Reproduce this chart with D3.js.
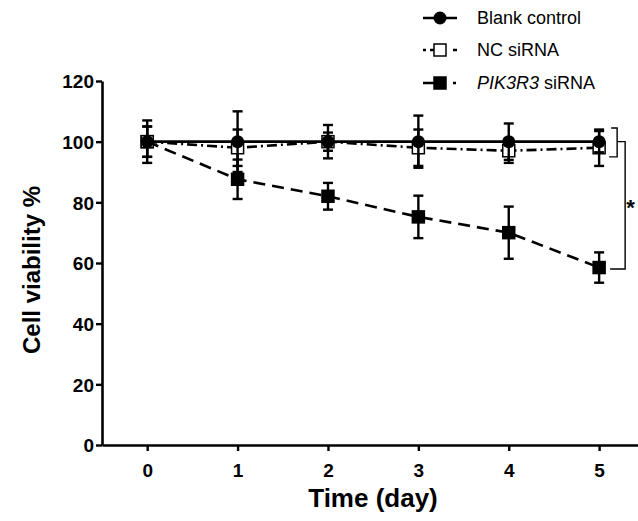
<!DOCTYPE html>
<html>
<head>
<meta charset="utf-8">
<script src="https://cdn.jsdelivr.net/npm/d3@7"></script>
<style>
  body { margin: 0; background: #fff; }
  text { font-family: Arial, "Liberation Sans", sans-serif; }
</style>
</head>
<body>
<svg id="chart" width="638" height="521"></svg>
<script>
// data
const days = [0, 1, 2, 3, 4, 5];
const seriesNames = ["Blank control", "NC siRNA", "PIK3R3 siRNA"];
const blankMean = [100, 100, 100, 100, 100, 100];
const blankErr = [7, 10, 5.5, 8.6, 6, 3.5];
const ncMean = [100, 98, 100, 98, 97, 98];
const ncErr = [5, 6, 3, 6, 4, 6];
const pikMean = [100, 87.6, 82, 75.2, 70, 58.5];
const pikErr = [5, 6.5, 4.4, 7, 8.6, 5];
const yTicks = [0, 20, 40, 60, 80, 100, 120];

const svg = d3.select("#chart");

const x = d3.scaleLinear().domain([-0.5, 5.43]).range([102, 638]);
const y = d3.scaleLinear().domain([0, 120]).range([445, 81]);

// axes
const xAxis = svg.append("g").attr("transform", "translate(0,445)")
  .call(d3.axisBottom(x).tickValues(days).tickFormat(d3.format("d")).tickSize(6).tickSizeOuter(0));
const yAxis = svg.append("g").attr("transform", "translate(102,0)")
  .call(d3.axisLeft(y).tickValues(yTicks).tickFormat(d3.format("d")).tickSize(6).tickSizeOuter(0));

[xAxis, yAxis].forEach(g => {
  g.select(".domain").attr("stroke", "#000").attr("stroke-width", 2.6);
  g.selectAll(".tick line").attr("stroke", "#000").attr("stroke-width", 2.4);
  g.selectAll(".tick text").attr("fill", "#000")
    .style("font-size", "19px").style("font-weight", "bold");
});
xAxis.selectAll(".tick text").attr("dy", "1.2em");
yAxis.selectAll(".tick text").attr("x", -8).attr("dy", "0.36em");

svg.append("text").attr("x", 373).attr("y", 507).attr("text-anchor", "middle")
  .style("font-size", "26px").style("font-weight", "bold").text("Time (day)");
svg.append("text").attr("transform", "translate(40,270) rotate(-90)")
  .attr("text-anchor", "middle")
  .style("font-size", "24px").style("font-weight", "bold").text("Cell viability %");

const series = [
  { name: seriesNames[2], mean: pikMean, err: pikErr, dash: "12,7", marker: "square", fill: "#000" },
  { name: seriesNames[1], mean: ncMean, err: ncErr, dash: "10,4,2,4", marker: "square", fill: "#fff" },
  { name: seriesNames[0], mean: blankMean, err: blankErr, dash: null, marker: "circle", fill: "#000" }
];

const line = d3.line().x((d, i) => x(days[i])).y(d => y(d));

function drawMarker(g, s, cx, cy) {
  if (s.marker === "circle") {
    g.append("circle").attr("cx", cx).attr("cy", cy).attr("r", 6.5).attr("fill", s.fill);
  } else {
    g.append("rect").attr("x", cx - 6).attr("y", cy - 6).attr("width", 12).attr("height", 12)
      .attr("fill", s.fill).attr("stroke", "#000").attr("stroke-width", 1.5);
  }
}

series.forEach(s => {
  const g = svg.append("g");
  g.append("path").datum(s.mean).attr("d", line).attr("fill", "none")
    .attr("stroke", "#000").attr("stroke-width", 2.6)
    .attr("stroke-dasharray", s.dash);
  s.mean.forEach((m, i) => {
    const cx = x(days[i]);
    const e = s.err[i];
    g.append("line").attr("x1", cx).attr("x2", cx).attr("y1", y(m + e)).attr("y2", y(m - e))
      .attr("stroke", "#000").attr("stroke-width", 2.4);
    [m + e, m - e].forEach(v => {
      g.append("line").attr("x1", cx - 5).attr("x2", cx + 5).attr("y1", y(v)).attr("y2", y(v))
        .attr("stroke", "#000").attr("stroke-width", 2.4);
    });
  });
  s.mean.forEach((m, i) => drawMarker(g, s, x(days[i]), y(m)));
});

// legend
const legendRows = [series[2], series[1], series[0]];
const legendY = [18, 50, 83];
const legendDash = { "Blank control": null, "NC siRNA": "3,4,9,14,9,4,3", "PIK3R3 siRNA": "22,8,3" };
legendRows.forEach((s, i) => {
  const g = svg.append("g");
  const ly = legendY[i];
  g.append("line").attr("x1", 423).attr("x2", 457).attr("y1", ly).attr("y2", ly)
    .attr("stroke", "#000").attr("stroke-width", 2.6)
    .attr("stroke-dasharray", legendDash[s.name]);
  drawMarker(g, s, 440, ly);
  const t = g.append("text").attr("x", 477).attr("y", ly).attr("dy", "0.36em")
    .style("font-size", "18px");
  if (s.name.startsWith("PIK3R3")) {
    t.append("tspan").style("font-style", "italic").text("PIK3R3");
    t.append("tspan").text(" siRNA");
  } else {
    t.text(s.name);
  }
});

// significance brackets
const bx = x(5);
const br = d3.path();
br.moveTo(bx + 12, y(104.5)); br.lineTo(bx + 18, y(104.5));
br.lineTo(bx + 18, y(95)); br.lineTo(bx + 10, y(95));
br.moveTo(bx + 18, y(100)); br.lineTo(bx + 26, y(100));
br.lineTo(bx + 26, y(58)); br.lineTo(bx + 11, y(58));
svg.append("path").attr("d", br.toString()).attr("fill", "none")
  .attr("stroke", "#000").attr("stroke-width", 1.4);
svg.append("text").attr("x", bx + 27).attr("y", y(79) + 10)
  .style("font-size", "22px").style("font-weight", "bold").text("*");
</script>
</body>
</html>
